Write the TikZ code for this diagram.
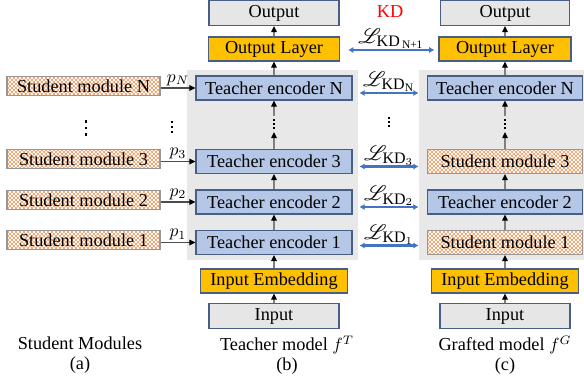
\documentclass[tikz,border=0pt]{standalone}
\usepackage{amsmath}
\usepackage{mathrsfs}
\usepackage{fontspec}
\setmainfont{Liberation Serif}
\usetikzlibrary{calc,arrows.meta,patterns}

\definecolor{encblue}{RGB}{180,199,231}
\definecolor{encline}{RGB}{72,94,132}
\definecolor{boxgray}{RGB}{231,230,230}
\definecolor{panelgray}{RGB}{232,232,232}
\definecolor{layergold}{RGB}{255,192,0}
\definecolor{kdblue}{RGB}{68,114,196}
\definecolor{chkorange}{RGB}{244,170,120}
\definecolor{chkline}{RGB}{150,150,150}
\definecolor{linkgray}{RGB}{128,128,128}

\pgfdeclarepatternformonly{tinychecker}{\pgfpointorigin}{\pgfpoint{0.08cm}{0.08cm}}{\pgfpoint{0.08cm}{0.08cm}}{%
  \pgfpathrectangle{\pgfpointorigin}{\pgfpoint{0.04cm}{0.04cm}}%
  \pgfpathrectangle{\pgfpoint{0.04cm}{0.04cm}}{\pgfpoint{0.04cm}{0.04cm}}%
  \pgfusepath{fill}}

% three stacked square dots: #1 dot size, #2 gap
\newcommand{\stackdots}[2]{\vbox{\offinterlineskip\hbox{\rule{#1}{#1}}\vskip#2\hbox{\rule{#1}{#1}}\vskip#2\hbox{\rule{#1}{#1}}}}

\tikzset{
  blockbase/.style={rectangle, inner sep=0pt, line width=0.6pt},
  tencoder/.style={blockbase, draw=encline, fill=encblue, minimum width=3.12cm, minimum height=0.48cm},
  smodule/.style={blockbase, draw=chkline, preaction={fill=white}, pattern=tinychecker, pattern color=chkorange},
  goldlayer/.style={blockbase, draw=encline, fill=layergold, minimum height=0.48cm},
  endbox/.style={blockbase, draw=encline, fill=boxgray, minimum height=0.5cm},
  panel/.style={rectangle, fill=panelgray, inner sep=0pt},
  lift/.style={draw=linkgray, line width=0.7pt, -{Triangle[color=black,length=3.5pt,width=3.2pt]}},
  feed/.style={draw=black!70, line width=0.6pt, -{Triangle[color=black,length=3.5pt,width=3.2pt]}},
  kdlink/.style={draw=kdblue, line width=1.2pt, {Latex[length=3pt,width=3.5pt]}-{Latex[length=3pt,width=3.5pt]}},
  losslabel/.style={above, inner sep=0pt, font=\fontsize{13}{14}\selectfont},
  dotmark/.style={inner sep=1.5pt},
  caption/.style={align=center, font=\fontsize{10.4}{11.4}\selectfont}
}

\begin{document}
\begin{tikzpicture}[x=0.02cm, y=-0.02cm, font=\fontsize{10.4}{12}\selectfont]
  \useasboundingbox (0,0) rectangle (584,380);

  % grey panels behind the two models
  \node[panel, minimum width=3.42cm, minimum height=3.8cm] (tpanel) at (272.5,165) {};
  \node[panel, minimum width=3.3cm, minimum height=3.8cm] (gpanel) at (501.5,165) {};

  % (a) student modules
  \node[smodule, minimum width=3.06cm, minimum height=0.38cm, anchor=north] (smodN) at (83.5,76) {Student module N};
  \node[smodule, minimum width=3.06cm, minimum height=0.38cm, anchor=north] (smod3) at (83.5,149) {Student module 3};
  \node[smodule, minimum width=3.06cm, minimum height=0.38cm, anchor=north] (smod2) at (83.5,190) {Student module 2};
  \node[smodule, minimum width=3.06cm, minimum height=0.38cm, anchor=north] (smod1) at (83.5,230) {Student module 1};
  \node[dotmark] (sdots) at (86,128) {\stackdots{1.6pt}{1.9pt}};
  \node[dotmark] (pdots) at (172,127) {\stackdots{1.3pt}{1.6pt}};

  % (b) teacher model
  \node[endbox, minimum width=2.6cm] (tout) at (274,13) {Output};
  \node[goldlayer, minimum width=2.62cm] (tlayer) at (274,49) {Output Layer};
  \node[tencoder] (tencN) at (274,88) {Teacher encoder N};
  \node[dotmark] (tdots) at (274,124) {\stackdots{1.2pt}{1.1pt}};
  \node[tencoder] (tenc3) at (274,161.5) {Teacher encoder 3};
  \node[tencoder] (tenc2) at (274,202) {Teacher encoder 2};
  \node[tencoder] (tenc1) at (274,242.5) {Teacher encoder 1};
  \node[goldlayer, minimum width=2.94cm] (tembed) at (274,281) {Input Embedding};
  \node[endbox, minimum width=2.6cm] (tinput) at (274,316) {Input};

  % (c) grafted model
  \node[endbox, minimum width=2.58cm] (gout) at (505,13) {Output};
  \node[goldlayer, minimum width=2.64cm] (glayer) at (505,49) {Output Layer};
  \node[tencoder, minimum width=3.1cm] (gencN) at (505,88) {Teacher encoder N};
  \node[dotmark] (gdots) at (505,124) {\stackdots{1.2pt}{1.1pt}};
  \node[smodule, minimum width=3.1cm, minimum height=0.48cm] (gmod3) at (505,161.5) {Student module 3};
  \node[tencoder, minimum width=3.1cm] (genc2) at (505,202) {Teacher encoder 2};
  \node[smodule, minimum width=3.1cm, minimum height=0.48cm] (gmod1) at (505,242.5) {Student module 1};
  \node[goldlayer, minimum width=2.94cm] (gembed) at (505,281) {Input Embedding};
  \node[endbox, minimum width=2.6cm] (ginput) at (505,316) {Input};

  % student outputs into the teacher
  \draw[feed] (smodN.east |- tencN) -- node[above, inner sep=1pt] {$p_N$} (tencN.west);
  \draw[feed] (smod3.east |- tenc3) -- node[above, inner sep=1pt] {$p_3$} (tenc3.west);
  \draw[feed] (smod2.east |- tenc2) -- node[above, inner sep=1pt] {$p_2$} (tenc2.west);
  \draw[feed] (smod1.east |- tenc1) -- node[above, inner sep=1pt] {$p_1$} (tenc1.west);

  % data flow, teacher
  \draw[lift] (tinput) -- (tembed);
  \draw[lift] (tembed) -- (tenc1);
  \draw[lift] (tenc1) -- (tenc2);
  \draw[lift] (tenc2) -- (tenc3);
  \draw[lift] (tenc3) -- (tdots);
  \draw[lift] (tdots) -- (tencN);
  \draw[lift] (tencN) -- (tlayer);
  \draw[lift] (tlayer) -- (tout);

  % data flow, grafted
  \draw[lift] (ginput) -- (gembed);
  \draw[lift] (gembed) -- (gmod1);
  \draw[lift] (gmod1) -- (genc2);
  \draw[lift] (genc2) -- (gmod3);
  \draw[lift] (gmod3) -- (gdots);
  \draw[lift] (gdots) -- (gencN);
  \draw[lift] (gencN) -- (glayer);
  \draw[lift] (glayer) -- (gout);

  % distillation losses
  \node[text=red] (kdtitle) at (390,12) {KD};
  \draw[kdlink] ($(tlayer.east)+(8,1)$) -- node[losslabel] {$\mathscr{L}_{\text{KD}_{\,\text{N+1}}}$} ($(glayer.west)+(-4,1)$);
  \draw[kdlink] ($(tpanel.east |- tencN)+(1,5)$) -- node[losslabel] {$\mathscr{L}_{\text{KD}_{\text{N}}}$} ($(gpanel.west |- tencN)+(0,5)$);
  \node[dotmark] (kdots) at (389,122) {\stackdots{1.2pt}{1.1pt}};
  \draw[kdlink] ($(tpanel.east |- tenc3)+(1,5)$) -- node[losslabel] {$\mathscr{L}_{\text{KD}_{3}}$} ($(gpanel.west |- tenc3)+(0,5)$);
  \draw[kdlink] ($(tpanel.east |- tenc2)+(1,5)$) -- node[losslabel] {$\mathscr{L}_{\text{KD}_{2}}$} ($(gpanel.west |- tenc2)+(0,5)$);
  \draw[kdlink] ($(tpanel.east |- tenc1)+(1,3)$) -- node[losslabel] {$\mathscr{L}_{\text{KD}_{1}}$} ($(gpanel.west |- tenc1)+(0,3)$);

  % captions
  \node[caption] (capa) at (80,355) {Student Modules\\(a)};
  \node[caption] (capb) at (287,355) {Teacher model $f^{T}$\\(b)};
  \node[caption] (capc) at (505,355) {Grafted model $f^{G}$\\(c)};
\end{tikzpicture}
\end{document}
